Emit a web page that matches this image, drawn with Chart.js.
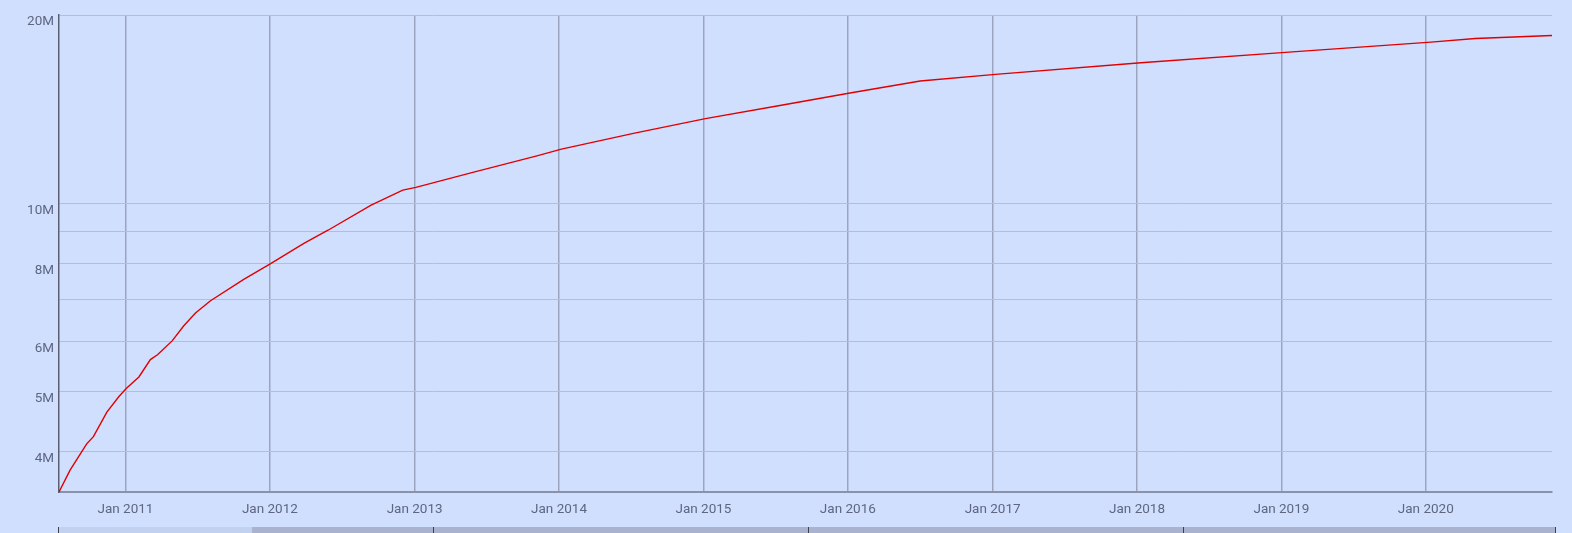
<!DOCTYPE html>
<html>
<head>
<meta charset="utf-8">
<script src="https://cdn.jsdelivr.net/npm/chart.js@4/dist/chart.umd.min.js"></script>
<style>
  html, body { margin: 0; padding: 0; background: #d1dffe; }
  #wrap { position: relative; width: 1572px; height: 533px; }
  #strip { position: absolute; left: 58px; top: 527px; width: 1498px; height: 6px; background: #a9b3cf; }
  #strip .sel { position: absolute; left: 0; top: 0; width: 194px; height: 6px; background: #c3d1f1; }
  #strip .tick { position: absolute; top: 0; width: 1px; height: 6px; background: #3c4150; }
</style>
</head>
<body>
<div id="wrap">
  <canvas id="chart"></canvas>
  <div id="strip">
    <div class="sel"></div>
    <div class="tick" style="left:0"></div>
    <div class="tick" style="left:375px"></div>
    <div class="tick" style="left:750px"></div>
    <div class="tick" style="left:1125px"></div>
    <div class="tick" style="left:1497px"></div>
  </div>
</div>
<script>
// dates of the samples
var dates = [
  '2010-07-17', '2010-08-14', '2010-09-25', '2010-10-12', '2010-11-15', '2010-12-15',
  '2011-01-03', '2011-02-04', '2011-03-05', '2011-03-23', '2011-04-29', '2011-05-28',
  '2011-06-27', '2011-08-04', '2011-10-27', '2012-01-03', '2012-03-27', '2012-05-27',
  '2012-09-13', '2012-12-02', '2013-01-04', '2013-05-28', '2013-11-06',
  '2014-01-07', '2014-07-08', '2015-01-06', '2015-07-06', '2016-01-10', '2016-07-02',
  '2017-01-08', '2018-01-11', '2019-01-11', '2020-01-14', '2020-05-05', '2020-11-15'
];

// total, in millions
var totals = [
  3.45, 3.74, 4.12, 4.23, 4.63, 4.90,
  5.05, 5.27, 5.62, 5.72, 6.02, 6.36,
  6.67, 6.98, 7.55, 8.00, 8.62, 9.05,
  9.93, 10.49, 10.60, 11.20, 11.90,
  12.20, 12.93, 13.65, 14.30, 15.02, 15.68,
  16.07, 16.77, 17.43, 18.10, 18.34, 18.55
];

// axis setup
var yGridValues = [4, 5, 6, 7, 8, 9, 10, 20];
var yLabelled = [4, 5, 6, 8, 10, 20];
var xYears = [2011, 2012, 2013, 2014, 2015, 2016, 2017, 2018, 2019, 2020];
var xStart = '2010-07-17';
var xEnd = '2020-11-15';

const toTime = s => {
    var p = s.split('-').map(Number);
    return Date.UTC(p[0], p[1] - 1, p[2]);
};

var points = dates.map((d, i) => ({ x: toTime(d), y: totals[i] * 1e6 }));

Chart.defaults.font.family = 'Roboto';
Chart.defaults.font.size = 13.5;
Chart.defaults.color = '#5e6680';

new Chart('chart', {
    type: 'line',
    data: {
        datasets: [{
            data: points,
            borderColor: '#e00000',
            borderWidth: 1.4,
            pointRadius: 0,
            tension: 0,
            fill: false
        }]
    },
    options: {
        responsive: true,
        maintainAspectRatio: false,
        animation: false,
        layout: { padding: { top: 15, right: 20, left: 0, bottom: 0 } },
        plugins: {
            legend: { display: false },
            tooltip: { enabled: false }
        },
        scales: {
            x: {
                type: 'linear',
                min: toTime(xStart),
                max: toTime(xEnd),
                afterBuildTicks: axis => {
                    axis.ticks = xYears.map(y => ({ value: Date.UTC(y, 0, 1) }));
                },
                afterFit: axis => { axis.height = 41; },
                ticks: {
                    autoSkip: false,
                    maxRotation: 0,
                    padding: 10,
                    callback: v => 'Jan ' + new Date(v).getUTCFullYear()
                },
                grid: { color: '#9ba5bf', lineWidth: 1.5, drawTicks: false },
                border: { color: '#8a92aa', width: 2 }
            },
            y: {
                type: 'logarithmic',
                min: 3.45e6,
                max: 20e6,
                afterBuildTicks: axis => {
                    axis.ticks = yGridValues.map(v => ({ value: v * 1e6 }));
                },
                afterFit: axis => { axis.width = 59; },
                ticks: {
                    autoSkip: false,
                    padding: 5,
                    labelOffset: 7,
                    callback: v => yLabelled.includes(v / 1e6) ? (v / 1e6) + 'M' : ''
                },
                grid: { color: '#b2bdd8', lineWidth: 1, drawTicks: false },
                border: { color: '#5a6072', width: 1.5 }
            }
        }
    }
});
</script>
</body>
</html>
